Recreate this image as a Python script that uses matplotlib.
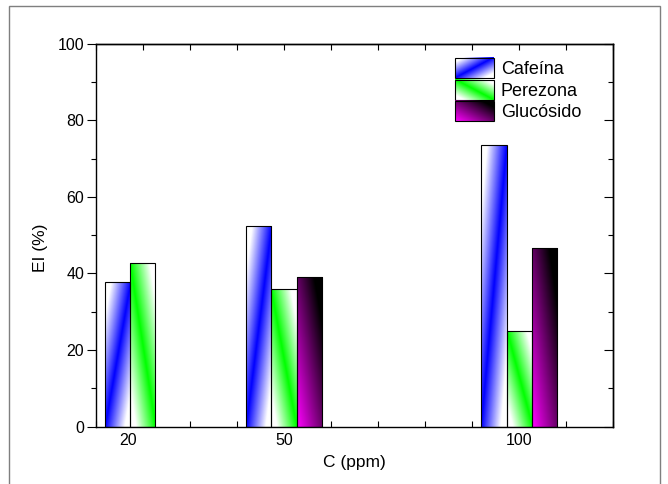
import numpy as np
import matplotlib
matplotlib.use("Agg")
import matplotlib.pyplot as plt
from matplotlib.patches import Rectangle
from matplotlib.legend_handler import HandlerBase
from matplotlib.image import BboxImage
from matplotlib.transforms import Bbox, TransformedBbox, ScaledTranslation

plt.rcParams['font.family'] = ['Liberation Sans', 'DejaVu Sans']

conc = [20, 50, 100]
cafeina = [37.9, 52.5, 73.6]
perezona = [42.7, 35.9, 25.0]
glucosido = [np.nan, 39.2, 46.6]
names = ['Cafeína', 'Perezona', 'Glucósido']


def grad_img(kind, nx=60, ny=200):
    u = np.linspace(0, 1, nx)[None, :]
    v = np.linspace(0, 1, ny)[:, None]
    if kind == 'blue':
        t = np.clip(np.abs(u - v) * 1.3, 0, 1)[..., None]
        c = np.array([0, 0, 1.0])
        img = c * (1 - t) + np.ones(3) * t
    elif kind == 'green':
        t = np.clip(np.abs(u - (1 - v)) * 1.3, 0, 1)[..., None]
        c = np.array([0, 1.0, 0])
        img = c * (1 - t) + np.ones(3) * t
    else:
        t = np.clip(0.6 * u + 0.6 * v, 0, 1)[..., None]
        c = np.array([1.0, 0, 1.0])
        img = c * (1 - t)
    return img


class GradHandler(HandlerBase):
    def __init__(self, kind):
        super().__init__()
        self.kind = kind

    def create_artists(self, legend, orig_handle, xdescent, ydescent,
                       width, height, fontsize, trans):
        bb = TransformedBbox(Bbox.from_bounds(-xdescent, -ydescent, width, height), trans)
        im = BboxImage(bb, origin='lower', interpolation='bilinear')
        im.set_data(grad_img(self.kind, 80, 40))
        r = Rectangle((-xdescent, -ydescent), width, height, fc='none',
                      ec='black', lw=0.8, transform=trans)
        return [im, r]


fig = plt.figure(figsize=(6.68, 4.84), dpi=100)
ax = fig.add_axes([0.1433, 0.1188, 0.7749, 0.7903])

w = 5.35
x = np.array(conc, dtype=float)
kinds = ['blue', 'green', 'mag']
series = [cafeina, perezona, glucosido]
handles = []
for i, (vals, kind) in enumerate(zip(series, kinds)):
    bars = ax.bar(x + (i - 1) * w, vals, width=w, facecolor='none',
                  edgecolor='black', linewidth=0.8, zorder=3)
    handles.append(bars)
    for b in bars:
        h = b.get_height()
        if not np.isfinite(h) or h <= 0:
            continue
        x0 = b.get_x()
        im = ax.imshow(grad_img(kind), origin='lower', aspect='auto',
                       extent=[x0, x0 + b.get_width(), 0, h],
                       interpolation='bilinear', zorder=2)
        im.set_clip_path(b)

ax.set_xlim(10, 120)
ax.set_ylim(0, 100)

ax.set_xticks(conc)
ax.set_xticklabels(['20', '50', '100'])
ax.set_xticks(np.arange(10, 121, 10), minor=True)
ax.tick_params(axis='x', which='major', direction='in', length=0, pad=5, labelsize=11.5)
ax.tick_params(axis='x', which='minor', direction='in', length=4, width=0.8)
# the "20" label sits a bit left of its group in the original
lbl = ax.get_xticklabels()[0]
lbl.set_transform(lbl.get_transform() + ScaledTranslation(-0.15, 0, fig.dpi_scale_trans))

ax.set_yticks(np.arange(0, 101, 20))
ax.set_yticks(np.arange(0, 101, 10), minor=True)
ax.tick_params(axis='y', which='major', direction='out', length=6.3, width=0.8,
               pad=2, labelsize=11.5)
ax.tick_params(axis='y', which='minor', direction='out', length=3.8, width=0.8)

sy = ax.secondary_yaxis('right')
sy.set_yticks(np.arange(0, 101, 20))
sy.set_yticks(np.arange(0, 101, 10), minor=True)
sy.tick_params(which='both', direction='in', labelright=False, width=0.8)
sy.tick_params(which='major', length=6.3)
sy.tick_params(which='minor', length=3.8)

sx = ax.secondary_xaxis('top')
sx.set_xticks([])
sx.set_xticks(np.arange(10, 121, 10), minor=True)
sx.tick_params(which='minor', direction='in', length=4, width=0.8, labeltop=False)
sx.tick_params(which='major', labeltop=False)

for s in list(ax.spines.values()):
    s.set_linewidth(1.0)
sx.spines['top'].set_linewidth(1.0)
sy.spines['right'].set_linewidth(1.0)

ax.set_xlabel('C (ppm)', fontsize=12.5, labelpad=5)
ax.set_ylabel('EI (%)', fontsize=12.5, labelpad=7)
ax.yaxis.label.set_y(0.467)

ax.legend(handles, names, handler_map={h: GradHandler(k) for h, k in zip(handles, kinds)},
          loc='upper left', bbox_to_anchor=(455 / 668, 1 - 57.7 / 484),
          bbox_transform=fig.transFigure, frameon=False, borderpad=0,
          borderaxespad=0, fontsize=13, handlelength=2.16, handleheight=1.33,
          labelspacing=0.1, handletextpad=0.37)

fig.patches.append(Rectangle((9 / 668, -0.01), (660 - 9) / 668, 1.01 - 6 / 484,
                             transform=fig.transFigure, fill=False,
                             edgecolor='#7f7f7f', linewidth=1.0))

fig.savefig('out.png', dpi=100)
